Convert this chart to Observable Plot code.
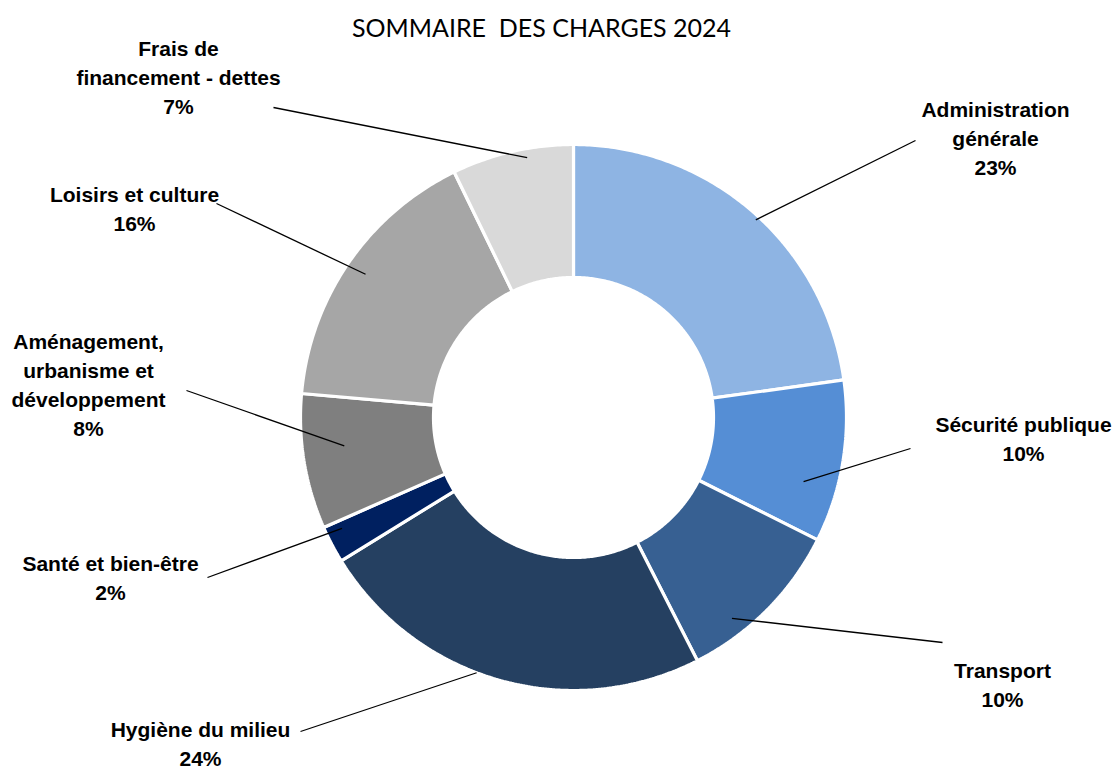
<!DOCTYPE html>
<html>
<head>
<meta charset="utf-8">
<script src="https://cdn.jsdelivr.net/npm/d3@7"></script>
<script src="https://cdn.jsdelivr.net/npm/@observablehq/plot@0.6"></script>
<style>
  html, body { margin: 0; padding: 0; background: #fff; }
  #chart { width: 1116px; height: 771px; }
</style>
</head>
<body>
<div id="chart"></div>
<script>
// ---- Data ----
const title = "SOMMAIRE  DES CHARGES 2024";
const categories = [
  "Administration\ngénérale",
  "Sécurité publique",
  "Transport",
  "Hygiène du milieu",
  "Santé et bien-être",
  "Aménagement,\nurbanisme et\ndéveloppement",
  "Loisirs et culture",
  "Frais de\nfinancement - dettes"
];
const values = [22.8, 9.6, 10.1, 23.7, 2.2, 8.0, 16.4, 7.2];
const colors = ["#8EB4E3", "#558ED5", "#376092", "#254061", "#002060", "#7F7F7F", "#A6A6A6", "#D9D9D9"];

// ---- Layout (label placement) ----
const labelX = [995, 1023, 1002, 200, 110, 88, 134, 178];
const labelY = [136, 436.5, 682.5, 742, 575.5, 382.5, 206.5, 75.5];
const leaderEnd = [[915, 140], [910, 448], [942, 642], [300, 731], [207, 577], [186, 390], [216, 203], [273, 107]];
const leaderR = [0.985, 0.875, 0.937, 1.0, 0.94, 0.846, 0.925, 0.967];
const leaderT = [0.52, 0.68, 0.69, 0.56, 0.77, 0.58, 0.5, 0.61];

const W = 1116, H = 771;
const cx = 573, cy = 417, R = 273, r0 = 140;

const pie = d3.pie().sort(null).value(d => d)(values);

// polygon points of each slice, built from pie angles
const slicePts = [];
pie.forEach((p, i) => {
  const n = Math.max(4, Math.ceil((p.endAngle - p.startAngle) / 0.01));
  for (let k = 0; k <= n; k++) {
    const a = p.startAngle + (p.endAngle - p.startAngle) * k / n;
    slicePts.push({i, x: cx + R * Math.sin(a), y: cy - R * Math.cos(a)});
  }
  for (let k = n; k >= 0; k--) {
    const a = p.startAngle + (p.endAngle - p.startAngle) * k / n;
    slicePts.push({i, x: cx + r0 * Math.sin(a), y: cy - r0 * Math.cos(a)});
  }
});

const leaders = pie.map((p, i) => {
  const a = p.startAngle + (p.endAngle - p.startAngle) * leaderT[i];
  return {
    x1: cx + R * leaderR[i] * Math.sin(a),
    y1: cy - R * leaderR[i] * Math.cos(a),
    x2: leaderEnd[i][0], y2: leaderEnd[i][1]
  };
});

const labels = categories.map((c, i) => ({
  text: c + "\n" + Math.round(values[i]) + "%",
  x: labelX[i], y: labelY[i]
}));

const plot = Plot.plot({
  width: W, height: H,
  margin: 0,
  x: {domain: [0, W], range: [0, W], axis: null},
  y: {domain: [0, H], range: [0, H], axis: null},
  style: {background: "#fff", overflow: "visible"},
  marks: [
    Plot.line(slicePts, {
      x: "x", y: "y", z: "i",
      curve: "linear-closed",
      fill: d => colors[d.i],
      stroke: "#fff", strokeWidth: 3.2, strokeLinejoin: "miter"
    }),
    Plot.link(leaders, {x1: "x1", y1: "y1", x2: "x2", y2: "y2", stroke: "#000", strokeWidth: 1.3}),
    Plot.text(labels, {
      x: "x", y: "y", text: "text",
      textAnchor: "middle", lineAnchor: "middle", lineHeight: 1.38,
      fontFamily: "'Liberation Sans Narrow', 'Arial Narrow', 'Liberation Sans', sans-serif",
      fontWeight: "bold", fontSize: 21, fill: "#000"
    }),
    Plot.text([title], {
      x: [541], y: [28], text: d => d,
      textAnchor: "middle", lineAnchor: "middle",
      fontFamily: "Lato, 'Open Sans', sans-serif",
      fontSize: 25, fill: "#000"
    })
  ]
});
document.getElementById("chart").appendChild(plot);
</script>
</body>
</html>
